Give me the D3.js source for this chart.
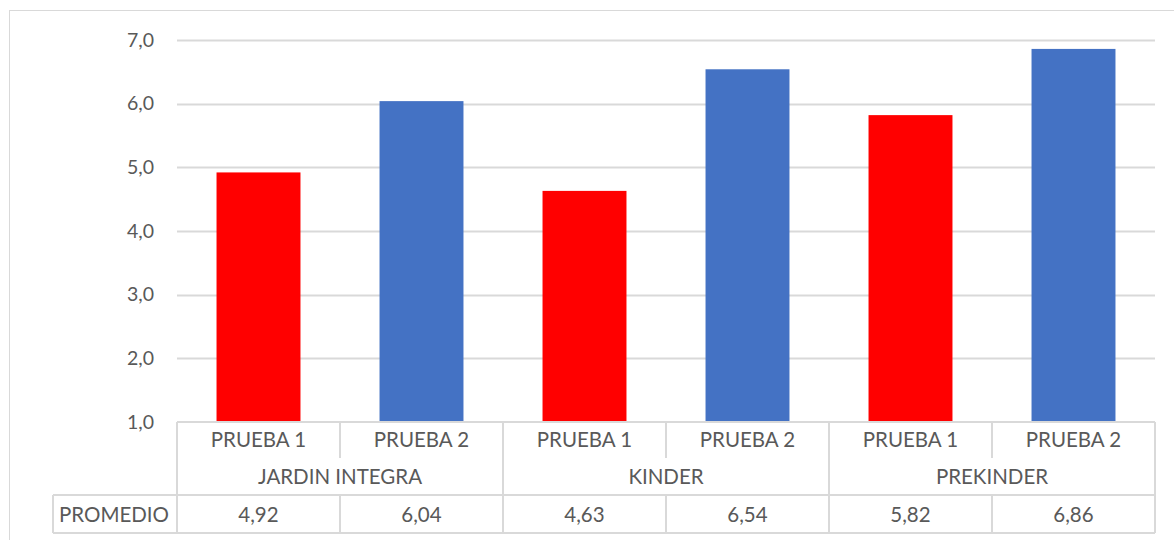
<!DOCTYPE html>
<html>
<head>
<meta charset="utf-8">
<script src="https://cdn.jsdelivr.net/npm/d3@7"></script>
<style>
  body { margin: 0; background: #fff; }
  text { font-family: Lato, "Open Sans", "Liberation Sans", sans-serif; fill: #595959; }
</style>
</head>
<body>
<script>
var groups = ["JARDIN INTEGRA", "KINDER", "PREKINDER"];
var tests = ["PRUEBA 1", "PRUEBA 2"];
var promedio = [4.92, 6.04, 4.63, 6.54, 5.82, 6.86];
var colors = ["#ff0000", "#4472c4"];
var yTicks = [1, 2, 3, 4, 5, 6, 7];

var width = 1174, height = 540;
var plot = {left: 177, right: 1155, top: 40, bottom: 422};
var gridColor = "#d9d9d9";

var locale = d3.formatLocale({decimal: ",", thousands: ".", grouping: [3], currency: ["", ""]});
var f1 = locale.format(".1f"), f2 = locale.format(".2f");

var svg = d3.select("body").append("svg")
    .attr("width", width)
    .attr("height", height);

// marco del grafico
svg.append("rect")
    .attr("x", 9.5).attr("y", 10.5)
    .attr("width", 1180).attr("height", 540)
    .attr("fill", "none").attr("stroke", gridColor);

var cats = [];
groups.forEach(function (g, gi) {
    tests.forEach(function (t, ti) {
        cats.push({group: g, test: t, ti: ti, value: promedio[gi * 2 + ti], key: g + "|" + t});
    });
});

var x = d3.scaleBand()
    .domain(cats.map(function (d) { return d.key; }))
    .range([plot.left, plot.right])
    .paddingInner(0).paddingOuter(0);

var y = d3.scaleLinear().domain([1, 7]).range([plot.bottom, plot.top]);

// gridlines
svg.append("g").selectAll("line")
    .data(yTicks.slice(1))
    .enter().append("line")
    .attr("x1", plot.left).attr("x2", plot.right)
    .attr("y1", function (d) { return Math.round(y(d)) + 0.5; })
    .attr("y2", function (d) { return Math.round(y(d)) + 0.5; })
    .attr("stroke", gridColor).attr("stroke-width", 2);

// tick labels
svg.append("g").selectAll("text")
    .data(yTicks)
    .enter().append("text")
    .attr("x", 154)
    .attr("y", function (d) { return y(d); })
    .attr("dy", "0.35em")
    .attr("text-anchor", "end")
    .style("font-size", "19.5px")
    .text(function (d) { return f1(d); });

// barras
var bw = x.bandwidth() * 0.515;
svg.append("g").selectAll("rect")
    .data(cats)
    .enter().append("rect")
    .attr("x", function (d) { return x(d.key) + (x.bandwidth() - bw) / 2; })
    .attr("y", function (d) { return y(d.value); })
    .attr("width", bw)
    .attr("height", function (d) { return y(1) - y(d.value); })
    .attr("fill", function (d) { return colors[d.ti]; });

// tabla de datos
var rows = {r1: 422, r1b: 458, r2: 495, r3: 533};
var tbl = svg.append("g").attr("stroke", gridColor).attr("stroke-width", 2);

// lineas horizontales
tbl.append("line").attr("x1", plot.left).attr("x2", plot.right).attr("y1", rows.r1).attr("y2", rows.r1);
tbl.append("line").attr("x1", 53).attr("x2", plot.right).attr("y1", rows.r2).attr("y2", rows.r2);
tbl.append("line").attr("x1", 53).attr("x2", plot.right).attr("y1", rows.r3).attr("y2", rows.r3);
tbl.append("line").attr("x1", 53).attr("x2", 53).attr("y1", rows.r2).attr("y2", rows.r3);

// verticales
cats.forEach(function (d, i) {
    var xs = x(d.key);
    if (d.ti === 0) {
        tbl.append("line").attr("x1", xs).attr("x2", xs).attr("y1", rows.r1).attr("y2", rows.r3);
    } else {
        tbl.append("line").attr("x1", xs).attr("x2", xs).attr("y1", rows.r1).attr("y2", rows.r1b);
        tbl.append("line").attr("x1", xs).attr("x2", xs).attr("y1", rows.r2).attr("y2", rows.r3);
    }
});
tbl.append("line").attr("x1", plot.right).attr("x2", plot.right).attr("y1", rows.r1).attr("y2", rows.r3);

var txt = svg.append("g").style("font-size", "20.5px").attr("text-anchor", "middle");

txt.selectAll("text.test")
    .data(cats)
    .enter().append("text")
    .attr("class", "test")
    .attr("x", function (d) { return x(d.key) + x.bandwidth() / 2; })
    .attr("y", 440).attr("dy", "0.35em")
    .text(function (d) { return d.test; });

txt.selectAll("text.group")
    .data(groups)
    .enter().append("text")
    .attr("class", "group")
    .attr("x", function (g) { return x(g + "|" + tests[0]) + x.bandwidth(); })
    .attr("y", 477).attr("dy", "0.35em")
    .text(function (g) { return g; });

txt.selectAll("text.val")
    .data(cats)
    .enter().append("text")
    .attr("class", "val")
    .attr("x", function (d) { return x(d.key) + x.bandwidth() / 2; })
    .attr("y", 515).attr("dy", "0.35em")
    .text(function (d) { return f2(d.value); });

txt.append("text")
    .attr("x", 114).attr("y", 515).attr("dy", "0.35em")
    .text("PROMEDIO");
</script>
</body>
</html>
